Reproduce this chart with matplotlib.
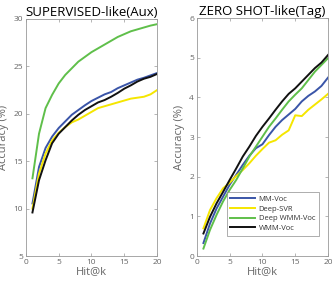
import numpy as np
import matplotlib
matplotlib.use('Agg')
import matplotlib.pyplot as plt

# hit@k
k = np.arange(1, 21)

# SUPERVISED-like (Aux)
aux_mm_voc = [10.55, 14.4, 16.4, 17.6, 18.5, 19.2, 19.9, 20.4, 20.9, 21.35,
              21.7, 22.05, 22.3, 22.7, 23.0, 23.3, 23.6, 23.8, 24.05, 24.3]
aux_deep_svr = [10.0, 13.7, 15.8, 17.2, 18.0, 18.6, 19.1, 19.4, 19.8, 20.2,
                20.6, 20.8, 21.0, 21.2, 21.4, 21.6, 21.7, 21.8, 22.05, 22.5]
aux_deep_wmm = [13.2, 17.9, 20.6, 22.0, 23.2, 24.1, 24.8, 25.5, 26.0, 26.5,
                26.9, 27.3, 27.7, 28.1, 28.4, 28.7, 28.9, 29.1, 29.3, 29.45]
aux_wmm_voc = [9.6, 13.0, 15.1, 16.9, 17.9, 18.6, 19.3, 19.9, 20.4, 20.8,
               21.2, 21.45, 21.8, 22.2, 22.65, 23.0, 23.4, 23.7, 23.9, 24.2]

# ZERO SHOT-like (Tag)
tag_mm_voc = [0.33, 0.82, 1.2, 1.5, 1.8, 2.05, 2.3, 2.53, 2.72, 2.82,
              3.05, 3.26, 3.43, 3.57, 3.71, 3.9, 4.04, 4.15, 4.29, 4.5]
tag_deep_svr = [0.7, 1.16, 1.46, 1.71, 1.85, 2.02, 2.17, 2.34, 2.53, 2.7,
                2.86, 2.92, 3.06, 3.17, 3.55, 3.53, 3.69, 3.82, 3.95, 4.09]
tag_deep_wmm = [0.19, 0.66, 1.04, 1.38, 1.67, 1.92, 2.21, 2.51, 2.76, 3.01,
                3.26, 3.47, 3.69, 3.9, 4.07, 4.23, 4.44, 4.65, 4.82, 4.99]
tag_wmm_voc = [0.57, 0.99, 1.33, 1.62, 1.92, 2.21, 2.51, 2.76, 3.03, 3.26,
               3.47, 3.69, 3.9, 4.09, 4.23, 4.4, 4.57, 4.74, 4.88, 5.07]

labels = ['MM-Voc', 'Deep-SVR', 'Deep WMM-Voc', 'WMM-Voc']
colors = ['#3a55a8', '#f5e600', '#5fbf4a', '#111111']

plt.rcParams['font.family'] = ['Open Sans', 'DejaVu Sans']
gray = '#666666'

fig = plt.figure(figsize=(3.32, 2.83), dpi=100)
ax1 = fig.add_axes([0.078, 0.095, 0.395, 0.838])
ax2 = fig.add_axes([0.593, 0.095, 0.395, 0.841])


def style(ax):
    for s in ax.spines.values():
        s.set_color('#999999')
        s.set_linewidth(0.6)
    ax.tick_params(direction='in', length=2.5, width=0.5, colors='#999999',
                   labelcolor=gray, labelsize=6, pad=2,
                   top=True, right=True)
    ax.set_xlim(0, 20)
    ax.set_xticks([0, 5, 10, 15, 20])
    ax.set_xlabel('Hit@k', fontsize=8, color=gray, labelpad=0)
    ax.set_ylabel('Accuracy (%)', fontsize=8, color=gray, labelpad=3)


for ys, c in zip([aux_mm_voc, aux_deep_svr, aux_deep_wmm, aux_wmm_voc], colors):
    ax1.plot(k, ys, color=c, lw=1.4)
style(ax1)
ax1.set_ylim(5, 30)
ax1.set_yticks([5, 10, 15, 20, 25, 30])
ax1.set_title('SUPERVISED-like(Aux)', fontsize=9.5, pad=2)

for ys, c, lab in zip([tag_mm_voc, tag_deep_svr, tag_deep_wmm, tag_wmm_voc],
                      colors, labels):
    ax2.plot(k, ys, color=c, lw=1.4, label=lab)
style(ax2)
ax2.set_ylim(0, 6)
ax2.set_yticks([0, 1, 2, 3, 4, 5, 6])
ax2.set_title('ZERO SHOT-like(Tag)', fontsize=9.5, pad=2)
leg = ax2.legend(loc='lower right', bbox_to_anchor=(0.96, 0.07), fontsize=5.5,
                 frameon=True, fancybox=False, handlelength=3.2,
                 borderpad=0.5, labelspacing=0.3, handletextpad=0.5)
leg.get_frame().set_edgecolor('#888888')
leg.get_frame().set_linewidth(0.6)
for t in leg.get_texts():
    t.set_color('#333333')

plt.savefig('out.png', dpi=100)
plt.close()
